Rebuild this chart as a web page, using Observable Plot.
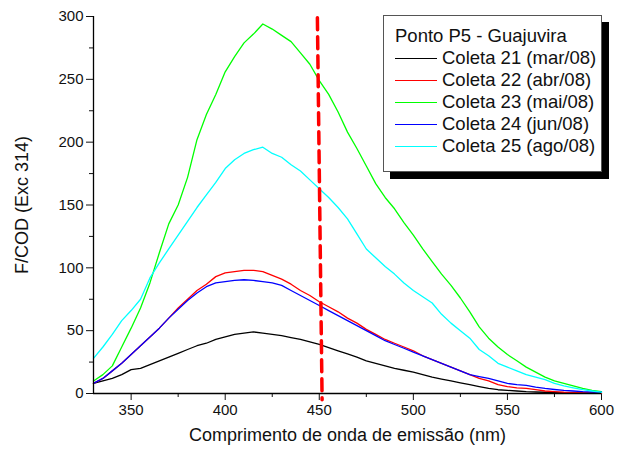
<!DOCTYPE html>
<html>
<head>
<meta charset="utf-8">
<script src="https://cdn.jsdelivr.net/npm/d3@7"></script>
<script src="https://cdn.jsdelivr.net/npm/@observablehq/plot@0.6"></script>
<style>
  body { margin: 0; background: #fff; }
  #wrap { position: relative; width: 620px; height: 456px; font-family: "Liberation Sans", Arial, sans-serif; }
  #legend { position: absolute; left: 383px; top: 15px; width: 217px; height: 146px; border: 1px solid #555; background: #fff; box-shadow: 7px 7px 0 #000; padding-top: 9px; box-sizing: content-box; }
  #legend .row { height: 22px; line-height: 22px; font-size: 18.5px; color: #111; white-space: nowrap; display: flex; align-items: center; }
  #legend .title { padding-left: 11px; }
  #legend .sw { width: 42px; margin-left: 11px; margin-right: 5px; height: 0; border-top-width: 1.5px; border-top-style: solid; }
</style>
</head>
<body>
<div id="wrap"></div>
<script>
// Emission wavelength (nm)
const wavelengths = [330,335,340,345,350,355,360,365,370,375,380,385,390,395,400,405,410,415,420,425,430,435,440,445,450,455,460,465,470,475,480,485,490,495,500,505,510,515,520,525,530,535,540,545,550,555,560,565,570,575,580,585,590,595,600];

const seriesNames = ["Coleta 21 (mar/08)", "Coleta 22 (abr/08)", "Coleta 23 (mai/08)", "Coleta 24 (jun/08)", "Coleta 25 (ago/08)"];
const seriesColors = ["#000000", "#ff0000", "#00ff00", "#0000ff", "#00ffff"];
const legendTitle = "Ponto P5 - Guajuvira";

const coleta21 = [8,10,12,15,19,20,23,26,29,32,35,38,40,43,45,47,48,49,48,47,46,44.5,43,41,39,36.5,34,31.5,29,26,24,22,20,18.5,17,15,13,11.5,10,8.5,7,5.5,4,3,2.5,2,1.5,1.2,1,0.8,0.5,0.4,0.3,0.2,0.2];
const coleta22 = [8,12,18,24,31,38,45,52,60,68,75,82,87,93,96,97,98,98,97,94,91,87,82,78,73,69,65,60,56,51,47,43,40,37,34,30,27,24,21,18,15,12,10,7,5.5,4.5,4,3,2,1.5,1,0.8,0.6,0.5,0.4];
const coleta23 = [10,15,22,37,52,68,88,112,135,150,172,202,222,238,256,268,279,286,294,290,285,280,271,262,249,238,224,208,195,181,167,156,147,136,126,115,105,95,86,76,65,53,44,37,31,26,21,17,13,10,8,6,4,2.5,1.5];
const coleta24 = [8,12,18,24,31,38,45,52,60,67,74,80,85,88,89,90,90.5,90,89,88,86,82,78,74,70,66,62,58,54,50,46,42,39,36,33,30,27,24,21,18,15,13.5,12,10,8,7,6.5,5,4,3.2,2.5,2,1.5,1.2,1];
const coleta25 = [28,37,47,58,66,75,92,104,115,126,137,148,158,168,179,186,191,194,196,191,188,182,177,170,163,156,148,139,127,115,108,101,95,88,82,77,72,63,56,50,44,35,30,24,21,18,15,13,11,8,6,4.5,3,2,1];
const seriesValues = [coleta21, coleta22, coleta23, coleta24, coleta25];

const xTicks = [350, 400, 450, 500, 550, 600];
const xMinorTicks = [375, 425, 475, 525, 575];
const yTicks = [0, 50, 100, 150, 200, 250, 300];
const yMinorTicks = [25, 75, 125, 175, 225, 275];

// Vertical dashed marker near 450 nm (slightly slanted in the original)
const markerX = [449, 451.5];
const markerY = [299, -5];

const xLabel = "Comprimento de onda de emissão (nm)";
const yLabel = "F/COD (Exc 314)";

const rows = [];
seriesValues.forEach((vals, i) => {
  vals.forEach((v, j) => rows.push({wl: wavelengths[j], value: v, series: seriesNames[i]}));
});

const chart = Plot.plot({
  width: 620,
  height: 456,
  marginLeft: 93,
  marginRight: 19,
  marginTop: 16,
  marginBottom: 63,
  style: {fontFamily: "'Liberation Sans', Arial, sans-serif", fontSize: "15px", color: "#111", background: "#fff"},
  x: {domain: [330, 600]},
  y: {domain: [0, 300]},
  color: {domain: seriesNames, range: seriesColors},
  marks: [
    Plot.axisX({ticks: xTicks, tickSize: 7, tickPadding: 4, label: null, fontSize: 15}),
    Plot.axisX({ticks: xMinorTicks, tickSize: 4, tickFormat: () => "", label: null}),
    Plot.axisY({ticks: yTicks, tickSize: 7, tickPadding: 3, label: null, fontSize: 15}),
    Plot.axisY({ticks: yMinorTicks, tickSize: 4, tickFormat: () => "", label: null}),
    Plot.line(rows, {x: "wl", y: "value", z: "series", stroke: "series", strokeWidth: 1.3}),
    Plot.line(markerX.map((x, i) => ({x, y: markerY[i]})), {x: "x", y: "y", stroke: "#ff0000", strokeWidth: 3.5, strokeDasharray: "12,7"}),
    Plot.ruleX([330], {stroke: "#000", strokeWidth: 1.3}),
    Plot.ruleY([0], {stroke: "#000", strokeWidth: 1.3}),
    Plot.text([xLabel], {text: d => d, frameAnchor: "bottom", dy: 47, fontSize: 18, fill: "#111"}),
    Plot.text([yLabel], {text: d => d, frameAnchor: "left", textAnchor: "middle", dx: -71, rotate: -90, fontSize: 18, fill: "#111"})
  ]
});

const wrap = document.getElementById("wrap");
wrap.appendChild(chart);

const legend = document.createElement("div");
legend.id = "legend";
const t = document.createElement("div");
t.className = "row title";
t.textContent = legendTitle;
legend.appendChild(t);
seriesNames.forEach((name, i) => {
  const r = document.createElement("div");
  r.className = "row";
  const sw = document.createElement("span");
  sw.className = "sw";
  sw.style.borderTopColor = seriesColors[i];
  const lab = document.createElement("span");
  lab.textContent = name;
  r.appendChild(sw);
  r.appendChild(lab);
  legend.appendChild(r);
});
wrap.appendChild(legend);
</script>
</body>
</html>
